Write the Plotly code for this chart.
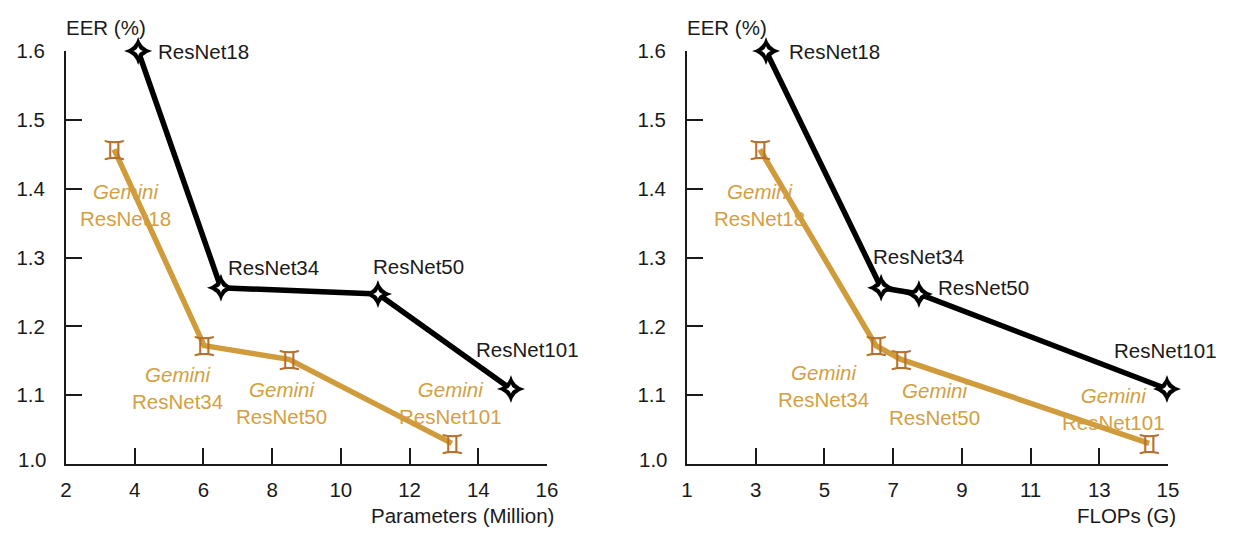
import plotly.graph_objects as go

Y_TICKS = [1.0, 1.1, 1.2, 1.3, 1.4, 1.5, 1.6]
X1_TICKS = [2, 4, 6, 8, 10, 12, 14, 16]
X2_TICKS = [1, 3, 5, 7, 9, 11, 13, 15]

BASE_NAMES = ["ResNet18", "ResNet34", "ResNet50", "ResNet101"]

PARAMS_BASE = [4.1, 6.51, 11.08, 14.95]
EER_BASE = [1.6, 1.256, 1.247, 1.109]
PARAMS_GEMINI = [3.4, 6.02, 8.49, 13.23]
EER_GEMINI = [1.457, 1.172, 1.152, 1.03]

FLOPS_BASE = [3.3, 6.65, 7.75, 14.97]
FLOPS_GEMINI = [3.12, 6.5, 7.23, 14.45]

BLACK = "#000000"
GOLD = "#D09B3A"
GOLD_TEXT = "#D39F42"
BROWN = "#B4702F"
INK = "#1a1a1a"
FONT = "Liberation Sans"
FS = 20.5

# label offsets from their points, in pixels (x right, y up)
OFF_BASE_1 = [(65, 0), (53, 20), (41, 27), (17, 39)]
OFF_GEM_1 = [(11, -56), (-27, -42), (-7, -44), (-1, 40)]
OFF_BASE_2 = [(68, 0), (37, 31), (65, 6), (-1, 38)]
OFF_GEM_2 = [(0, -56), (-52, -40), (33, -45), (-36, 34)]

fig = go.Figure()
annotations = []


def panel(xa, ya, xb, xg, xticks, xtitle, off_b, off_g):
    xref, yref = xa, ya
    fig.add_trace(go.Scatter(x=xb, y=EER_BASE, xaxis=xa, yaxis=ya, mode="lines",
                             line=dict(color=BLACK, width=5.5), cliponaxis=False,
                             showlegend=False, hoverinfo="skip"))
    fig.add_trace(go.Scatter(x=xg, y=EER_GEMINI, xaxis=xa, yaxis=ya, mode="lines",
                             line=dict(color=GOLD, width=5.5), cliponaxis=False,
                             showlegend=False, hoverinfo="skip"))
    fig.add_trace(go.Scatter(x=xb, y=EER_BASE, xaxis=xa, yaxis=ya, mode="markers",
                             marker=dict(symbol="star-diamond", size=20, color=BLACK,
                                         line=dict(width=0)),
                             cliponaxis=False, showlegend=False))
    fig.add_trace(go.Scatter(x=xb, y=EER_BASE, xaxis=xa, yaxis=ya, mode="markers",
                             marker=dict(symbol="star-diamond", size=7, color="white",
                                         line=dict(width=0)),
                             cliponaxis=False, showlegend=False))
    for i, name in enumerate(BASE_NAMES):
        annotations.append(dict(x=xg[i], y=EER_GEMINI[i], xref=xref, yref=yref, text="\u264a\ufe0e",
                                showarrow=False, yshift=-1,
                                font=dict(family="DejaVu Sans", size=27, color=BROWN)))
        annotations.append(dict(x=xb[i], y=EER_BASE[i], xref=xref, yref=yref, text=name,
                                showarrow=False, xshift=off_b[i][0], yshift=off_b[i][1],
                                font=dict(family=FONT, size=FS, color=INK)))
        annotations.append(dict(x=xg[i], y=EER_GEMINI[i], xref=xref, yref=yref,
                                text=f"<i>Gemini</i><br>{name}",
                                showarrow=False, xshift=off_g[i][0], yshift=off_g[i][1],
                                font=dict(family=FONT, size=FS, color=GOLD_TEXT)))
    # axis texts
    annotations.append(dict(x=xticks[0], y=Y_TICKS[-1], xref=xref, yref=yref, text="EER (%)",
                            showarrow=False, xanchor="left", yshift=24, xshift=-2,
                            font=dict(family=FONT, size=FS, color=INK)))
    annotations.append(dict(x=xticks[-1], y=Y_TICKS[0], xref=xref, yref=yref, text=xtitle,
                            showarrow=False, xanchor="right",
                            yshift=-51, xshift=9 if xa == "x" else 10,
                            font=dict(family=FONT, size=FS, color=INK)))
    annotations.append(dict(x=xticks[0], y=Y_TICKS[0], xref=xref, yref=yref, text="1.0",
                            showarrow=False, xanchor="right", yshift=5, xshift=-17,
                            font=dict(family=FONT, size=FS, color=INK)))


panel("x", "y", PARAMS_BASE, PARAMS_GEMINI, X1_TICKS, "Parameters (Million)", OFF_BASE_1, OFF_GEM_1)
panel("x2", "y2", FLOPS_BASE, FLOPS_GEMINI, X2_TICKS, "FLOPs (G)", OFF_BASE_2, OFF_GEM_2)

W, H = 1237, 540
ytext = ["" if v == 1.0 else f"{v:.1f}" for v in Y_TICKS]
yax = dict(range=[Y_TICKS[0], Y_TICKS[-1]], tickvals=Y_TICKS, ticktext=ytext, ticks="inside",
           ticklen=16, tickwidth=2, tickcolor=INK, showline=True, linewidth=2, linecolor=INK,
           showgrid=False, zeroline=False, domain=[(H - 464) / H, (H - 51) / H],
           tickfont=dict(family=FONT, size=FS, color=INK), ticklabelstandoff=15)


def xax(ticks, x0, anchor):
    return dict(range=[ticks[0], ticks[-1]], tickvals=ticks, ticks="inside", ticklen=16,
                tickwidth=2, tickcolor=INK, showline=True, linewidth=2, linecolor=INK,
                showgrid=False, zeroline=False, domain=[(x0 + 1) / W, (x0 + 482) / W], anchor=anchor,
                tickfont=dict(family=FONT, size=FS, color=INK), ticklabelstandoff=6)


fig.update_layout(
    width=W, height=H, margin=dict(l=0, r=0, t=0, b=0, autoexpand=False),
    plot_bgcolor="white", paper_bgcolor="white", showlegend=False,
    xaxis=xax(X1_TICKS, 65, "y"), yaxis=dict(yax, anchor="x"),
    xaxis2=xax(X2_TICKS, 686, "y2"), yaxis2=dict(yax, anchor="x2"),
    annotations=annotations,
)
fig.write_html("out.html", config={"displayModeBar": False},
               post_script="document.body.style.margin='0';document.body.style.overflow='hidden';")
